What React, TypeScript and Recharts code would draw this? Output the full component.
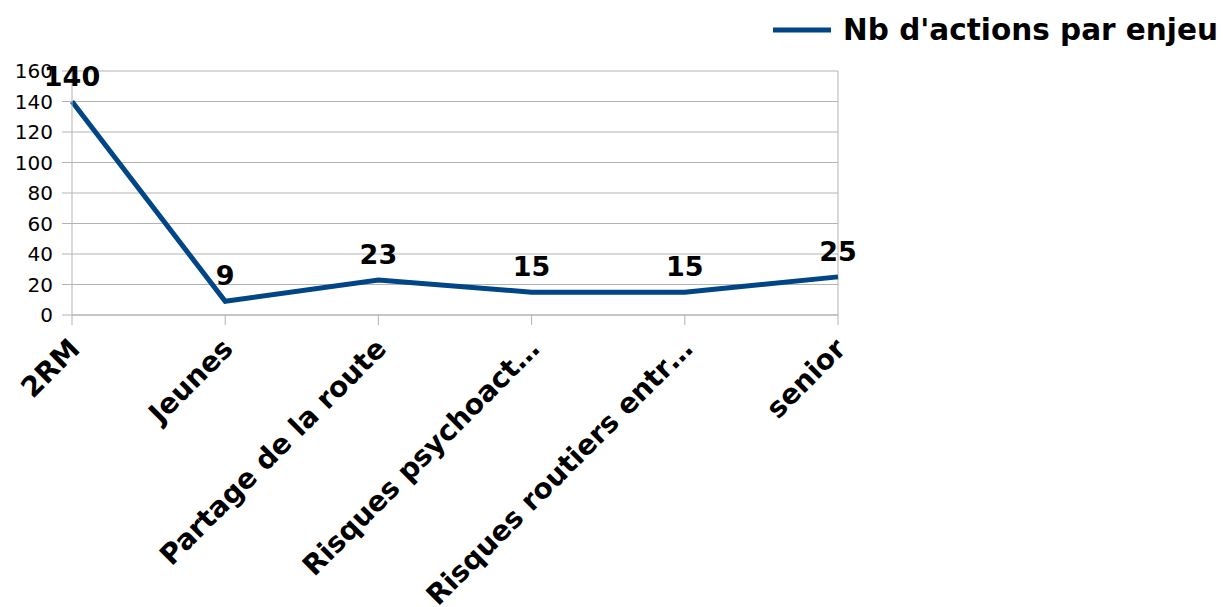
import { LineChart, Line, XAxis, YAxis, CartesianGrid, LabelList, ReferenceLine } from 'recharts'

const categories = ['2RM', 'Jeunes', 'Partage de la route', 'Risques psychoact…', 'Risques routiers entr…', 'senior']
const actions = [140, 9, 23, 15, 15, 25]
const yTicks = [0, 20, 40, 60, 80, 100, 120, 140, 160]

const seriesName = "Nb d'actions par enjeu"
const lineColor = '#004586'
const gridColor = '#b3b3b3'
const labelFont = '"DejaVu Sans", Verdana, sans-serif'

const chartData = categories.map((c, i) => ({ cat: c, value: actions[i] }))

const CategoryTick = (props: any) => {
  const { x, y, payload } = props
  return (
    <g transform={`translate(${x - 4},${y + 10})`}>
      <text
        x={0}
        y={0}
        dy={19}
        textAnchor="end"
        transform="rotate(-45)"
        fill="#000"
        fontFamily={labelFont}
        fontWeight={700}
        fontSize={28}
      >
        {payload.value}
      </text>
    </g>
  )
}

const ValueLabel = (props: any) => {
  const { x, y, value } = props
  return (
    <text x={x} y={y - 16} textAnchor="middle" fill="#000" fontFamily={labelFont} fontWeight={700} fontSize={27}>
      {value}
    </text>
  )
}

export default function App() {
  return (
    <div style={{ position: 'absolute', left: 0, top: 0, width: 1223, height: 607, background: '#fff' }}>
      <LineChart width={1223} height={607} data={chartData} margin={{ top: 71, right: 385, bottom: 0, left: 0 }}>
        <CartesianGrid vertical={false} stroke={gridColor} strokeWidth={1} />
        <XAxis
          dataKey="cat"
          height={292}
          interval={0}
          tickSize={10}
          stroke={gridColor}
          tick={<CategoryTick />}
        />
        <YAxis
          width={72}
          domain={[0, 160]}
          ticks={yTicks}
          interval={0}
          tickSize={10}
          tickMargin={9}
          stroke={gridColor}
          tick={{ fill: '#000', fontSize: 20, fontFamily: '"DejaVu Sans", sans-serif' }}
        />
        <ReferenceLine x="senior" stroke={gridColor} />
        <Line
          type="linear"
          dataKey="value"
          name={seriesName}
          stroke={lineColor}
          strokeWidth={5}
          dot={false}
          activeDot={false}
          isAnimationActive={false}
        >
          <LabelList dataKey="value" content={<ValueLabel />} />
        </Line>
      </LineChart>
      <div style={{ position: 'absolute', top: 13, right: 5, display: 'flex', alignItems: 'center' }}>
        <svg width={58} height={8} style={{ marginRight: 12 }}>
          <line x1={0} y1={4} x2={58} y2={4} stroke={lineColor} strokeWidth={5} />
        </svg>
        <span style={{ fontFamily: labelFont, fontWeight: 700, fontSize: 29.5, color: '#000' }}>{seriesName}</span>
      </div>
    </div>
  )
}
